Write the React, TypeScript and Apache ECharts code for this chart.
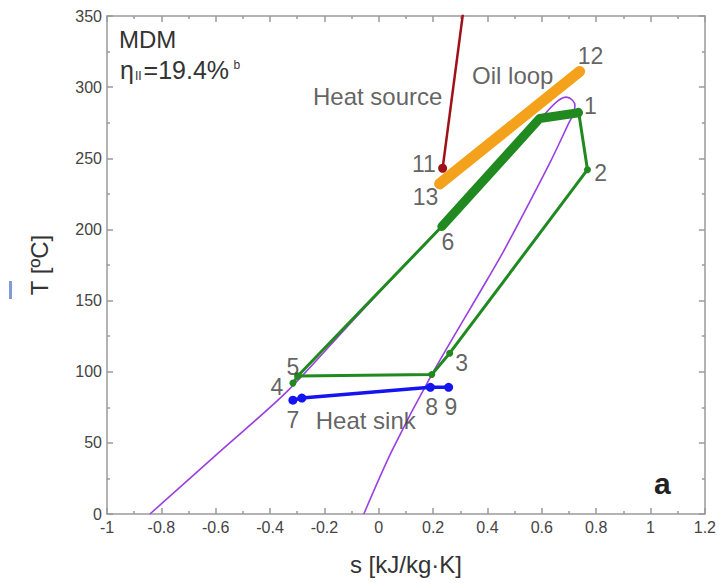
import React, { useEffect, useRef } from "react";
import * as echarts from "echarts";

// Saturation dome of MDM (s [kJ/kg·K], T [°C])
const domeS = [-0.842, -0.59, -0.338, -0.1, 0.1, 0.23, 0.4, 0.55, 0.62, 0.66, 0.69, 0.712, 0.722, 0.715, 0.7, 0.63, 0.463, 0.4, 0.195, 0.05, -0.055];
const domeT = [0, 43, 86, 135, 176, 202, 240, 268, 283, 290.5, 293, 291, 287, 281, 275, 247, 186, 165, 98, 45, 0];

// ORC cycle (thin part): 6 -> 5 -> 4 -> 5 -> 3' -> 3 -> 2 -> 1
const cycleS = [0.232, -0.298, -0.316, -0.298, 0.195, 0.261, 0.768, 0.735];
const cycleT = [202, 97, 92, 97, 98, 113, 242, 283];

// Evaporation (thick part): 6 -> bend -> 1
const evapS = [0.232, 0.592, 0.735];
const evapT = [202, 278, 282];

// Heat sink: 7 -> 8 -> 9
const sinkS = [-0.316, -0.283, 0.19, 0.257];
const sinkT = [80, 81.5, 89, 89];

// Oil loop: 13 -> 12
const oilS = [0.224, 0.739];
const oilT = [232, 311];

// Heat source: 11 -> upward
const srcS = [0.235, 0.31];
const srcT = [243, 352];

// Point / annotation labels
const labelText = ["1", "2", "3", "4", "5", "6", "7", "8", "9", "11", "12", "13"];
const labelS = [0.779, 0.816, 0.305, -0.375, -0.316, 0.254, -0.316, 0.195, 0.265, 0.166, 0.779, 0.172];
const labelT = [286.6, 239.4, 106, 89.4, 103.5, 191, 66, 75, 75, 246, 322, 222.5];

const noteText = ["Heat source", "Oil loop", "Heat sink"];
const noteS = [-0.004, 0.493, -0.048];
const noteT = [293.7, 308, 65.5];

const xTicks = { min: -1, max: 1.2, interval: 0.2 };
const yTicks = { min: 0, max: 350, interval: 50 };

const FONT = "'Liberation Sans', Arial, Helvetica, sans-serif";

function zip(a: number[], b: number[]) {
  return a.map((v, i) => [v, b[i]]);
}

export default function App() {
  const ref = useRef<HTMLDivElement>(null);
  useEffect(() => {
    if (!ref.current) return;
    const chart = echarts.init(ref.current, undefined, { renderer: "svg" });
    const axisLineStyle = { color: "#9a9a9a", width: 1.5 };
    const green = "#208a20";
    const frameAxis = (extra: any) => ({
      type: "value",
      axisLine: { show: true, onZero: false, lineStyle: axisLineStyle },
      axisTick: { show: true, inside: true, length: 6, lineStyle: axisLineStyle },
      minorTick: { show: true, splitNumber: 2, length: 3, lineStyle: axisLineStyle },
      splitLine: { show: false },
      ...extra,
    });
    const option: any = {
      animation: false,
      backgroundColor: "#ffffff",
      grid: { left: 107, right: 14, top: 16, bottom: 69 },
      xAxis: [
        frameAxis({
          position: "bottom",
          min: xTicks.min,
          max: xTicks.max,
          interval: xTicks.interval,
          name: "s [kJ/kg·K]",
          nameLocation: "middle",
          nameGap: 38,
          nameTextStyle: { fontFamily: FONT, fontSize: 24, color: "#333" },
          axisLabel: { fontFamily: FONT, fontSize: 16, color: "#444", margin: 5 },
        }),
        frameAxis({
          position: "top",
          min: xTicks.min,
          max: xTicks.max,
          interval: xTicks.interval,
          axisLabel: { show: false },
        }),
      ],
      yAxis: [
        frameAxis({
          position: "left",
          min: yTicks.min,
          max: yTicks.max,
          interval: yTicks.interval,
          name: "T [ºC]",
          nameLocation: "middle",
          nameGap: 56,
          nameTextStyle: { fontFamily: FONT, fontSize: 24, color: "#333" },
          axisLabel: { fontFamily: FONT, fontSize: 16, color: "#444", margin: 5 },
        }),
        frameAxis({
          position: "right",
          min: yTicks.min,
          max: yTicks.max,
          interval: yTicks.interval,
          axisLabel: { show: false },
        }),
      ],
      series: [
        {
          type: "line",
          name: "dome",
          data: zip(domeS, domeT),
          smooth: 0.3,
          showSymbol: false,
          lineStyle: { color: "#9b3fe0", width: 1.6 },
          z: 1,
        },
        {
          type: "line",
          name: "cycle",
          data: zip(cycleS, cycleT),
          symbol: "circle",
          symbolSize: 7,
          itemStyle: { color: green },
          lineStyle: { color: green, width: 3 },
          z: 2,
        },
        {
          type: "line",
          name: "evaporation",
          data: zip(evapS, evapT),
          showSymbol: false,
          lineStyle: { color: green, width: 9, cap: "round", join: "round" },
          z: 3,
        },
        {
          type: "line",
          name: "sink",
          data: zip(sinkS, sinkT),
          symbol: "circle",
          symbolSize: 9,
          itemStyle: { color: "#1414f0" },
          lineStyle: { color: "#1414f0", width: 3.5 },
          z: 4,
        },
        {
          type: "line",
          name: "oil",
          data: zip(oilS, oilT),
          showSymbol: false,
          lineStyle: { color: "#f4a21c", width: 11, cap: "round" },
          z: 5,
        },
        {
          type: "line",
          name: "source",
          data: srcS.map((s, i) => ({ value: [s, srcT[i]], symbol: i === 0 ? "circle" : "none" })),
          symbolSize: 9,
          itemStyle: { color: "#a0101a" },
          lineStyle: { color: "#a0101a", width: 2.5 },
          z: 6,
        },
        {
          type: "scatter",
          name: "labels",
          symbolSize: 0,
          data: labelText.map((t, i) => ({ value: [labelS[i], labelT[i]], name: t })),
          label: {
            show: true,
            position: "inside",
            formatter: (p: any) => p.name,
            fontFamily: FONT,
            fontSize: 23,
            color: "#3a3a3a",
          },
          z: 10,
        },
        {
          type: "scatter",
          name: "notes",
          symbolSize: 0,
          data: noteText.map((t, i) => ({ value: [noteS[i], noteT[i]], name: t })),
          label: {
            show: true,
            position: "inside",
            formatter: (p: any) => p.name,
            fontFamily: FONT,
            fontSize: 24,
            color: "#3a3a3a",
          },
          z: 10,
        },
      ],
      graphic: [
        {
          type: "text",
          left: 119,
          top: 27,
          style: { text: "MDM", font: `24px ${FONT}`, fill: "#333" },
        },
        {
          type: "text",
          left: 120,
          top: 57,
          style: {
            text: "{e|η}{sub|II}{e|=19.4%}{sp| }{sup|b}",
            rich: {
              e: { fontFamily: FONT, fontSize: 25, fill: "#333", color: "#333" },
              sub: { fontFamily: FONT, fontSize: 12, fill: "#333", color: "#333", padding: [12, 2, 0, 1] },
              sp: { fontFamily: FONT, fontSize: 16, fill: "#333", color: "#333" },
              sup: { fontFamily: FONT, fontSize: 12, fill: "#333", color: "#333", padding: [0, 0, 10, 0] },
            },
          },
        },
        {
          type: "text",
          left: 654,
          top: 468,
          style: { text: "a", font: `bold 30px ${FONT}`, fill: "#222" },
        },
        {
          type: "rect",
          shape: { x: 9, y: 281, width: 3, height: 18 },
          style: { fill: "#4a70c8", opacity: 0.7 },
        },
      ],
    };
    chart.setOption(option);
    return () => chart.dispose();
  }, []);
  return <div ref={ref} style={{ width: 719, height: 583, position: "absolute", left: 0, top: 0 }} />;
}
